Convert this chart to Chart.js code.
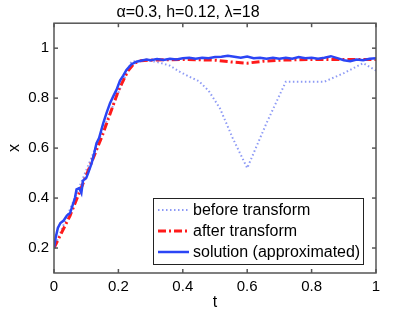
<!DOCTYPE html>
<html>
<head>
<meta charset="utf-8">
<script src="https://cdn.jsdelivr.net/npm/chart.js@4/dist/chart.umd.min.js"></script>
<style>
  html, body { margin: 0; padding: 0; background: #fff; }
</style>
</head>
<body>
<canvas id="chart" width="415" height="312"></canvas>
<script>
// data
const beforeT = [0, 0.24, 0.28, 0.32, 0.36, 0.39, 0.42, 0.45, 0.48, 0.515, 0.555, 0.60, 0.66, 0.72, 0.78, 0.84, 0.90, 0.96, 1.00];
const beforeX = [0.20, 0.946, 0.952, 0.945, 0.93, 0.906, 0.886, 0.868, 0.83, 0.76, 0.64, 0.52, 0.70, 0.866, 0.866, 0.866, 0.90, 0.94, 0.91];

const afterT = [0, 0.05, 0.10, 0.15, 0.20, 0.23, 0.25, 0.27, 0.30, 0.40, 0.50, 0.55, 0.60, 0.65, 0.70, 0.80, 0.90, 1.00];
const afterX = [0.20, 0.33, 0.49, 0.65, 0.83, 0.91, 0.94, 0.95, 0.952, 0.955, 0.952, 0.945, 0.94, 0.948, 0.952, 0.955, 0.955, 0.955];

const solT = [0, 0.005, 0.012, 0.02, 0.03, 0.04, 0.05, 0.055, 0.065, 0.07, 0.078, 0.085, 0.09, 0.10, 0.106, 0.117, 0.125, 0.132,
  0.14, 0.153, 0.163, 0.174, 0.185, 0.194, 0.205, 0.215, 0.225, 0.24, 0.256, 0.27, 0.287, 0.30, 0.32, 0.34, 0.36, 0.38, 0.40,
  0.42, 0.44, 0.46, 0.48, 0.50, 0.52, 0.54, 0.56, 0.58, 0.60, 0.62, 0.64, 0.66, 0.68, 0.70, 0.72, 0.74, 0.76, 0.78, 0.80,
  0.82, 0.84, 0.86, 0.88, 0.90, 0.92, 0.94, 0.96, 0.98, 1.00];
const solX = [0.20, 0.24, 0.28, 0.30, 0.31, 0.33, 0.34, 0.36, 0.40, 0.435, 0.44, 0.42, 0.47, 0.48, 0.50, 0.54, 0.58, 0.62,
  0.64, 0.70, 0.74, 0.78, 0.81, 0.833, 0.87, 0.89, 0.913, 0.935, 0.946, 0.95, 0.955, 0.952, 0.957, 0.953, 0.958, 0.955, 0.960,
  0.962, 0.958, 0.962, 0.960, 0.965, 0.966, 0.970, 0.966, 0.962, 0.967, 0.960, 0.962, 0.958, 0.962, 0.958, 0.962, 0.958, 0.965, 0.960, 0.962,
  0.958, 0.962, 0.968, 0.960, 0.952, 0.948, 0.955, 0.952, 0.958, 0.960];

const xTicks = [0, 0.2, 0.4, 0.6, 0.8, 1];
const xTickLabels = ["0", "0.2", "0.4", "0.6", "0.8", "1"];
const yTicks = [0.2, 0.4, 0.6, 0.8, 1];
const yTickLabels = ["0.2", "0.4", "0.6", "0.8", "1"];

const seriesNames = ["before transform", "after transform", "solution (approximated)"];

const dottedColor = "rgba(80, 100, 240, 0.65)";
const redColor = "#ff1a1a";
const blueColor = "#2b45f5";
const axisColor = "#555";

Chart.defaults.font.family = "'Liberation Sans', Arial, sans-serif";
Chart.defaults.color = "#000";

const toPoints = (ts, xs) => ts.map((t, i) => ({ x: t, y: xs[i] }));

const styles = [
  { color: dottedColor, width: 2, dash: [1.5, 2.5] },
  { color: redColor, width: 3, dash: [8, 3, 2, 3] },
  { color: blueColor, width: 2.5, dash: [] },
];

// MATLAB style box, inward ticks and legend
const boxPlugin = {
  id: "box",
  afterDraw(chart) {
    const { ctx, chartArea: a, scales } = chart;
    const line = (x1, y1, x2, y2) => {
      ctx.beginPath();
      ctx.moveTo(x1, y1);
      ctx.lineTo(x2, y2);
      ctx.stroke();
    };
    ctx.save();
    ctx.strokeStyle = axisColor;
    ctx.lineWidth = 1.5;
    ctx.strokeRect(a.left, a.top, a.right - a.left, a.bottom - a.top);
    const tl = 4;
    scales.x.ticks.forEach(t => {
      const px = scales.x.getPixelForValue(t.value);
      line(px, a.bottom, px, a.bottom - tl);
      line(px, a.top, px, a.top + tl);
    });
    scales.y.ticks.forEach(t => {
      const py = scales.y.getPixelForValue(t.value);
      line(a.left, py, a.left + tl, py);
      line(a.right, py, a.right - tl, py);
    });

    // legend
    const lx = 153, ly = 198, lw = 210, lh = 66;
    ctx.fillStyle = "#fff";
    ctx.fillRect(lx, ly, lw, lh);
    ctx.strokeStyle = "#222";
    ctx.lineWidth = 1;
    ctx.strokeRect(lx + 0.5, ly + 0.5, lw, lh);
    ctx.font = "16px 'Liberation Sans', Arial, sans-serif";
    ctx.textBaseline = "middle";
    ctx.fillStyle = "#000";
    seriesNames.forEach((name, i) => {
      const yy = 210 + i * 21;
      const s = styles[i];
      ctx.strokeStyle = s.color;
      ctx.lineWidth = s.width;
      ctx.setLineDash(s.dash);
      line(158, yy, 189, yy);
      ctx.setLineDash([]);
      ctx.fillText(name, 193, yy + 1);
    });
    ctx.restore();
  },
};

new Chart(document.getElementById("chart"), {
  type: "scatter",
  data: {
    datasets: [
      { label: seriesNames[0], data: toPoints(beforeT, beforeX), order: 3 },
      { label: seriesNames[1], data: toPoints(afterT, afterX), order: 2 },
      { label: seriesNames[2], data: toPoints(solT, solX), order: 1 },
    ].map((d, i) => ({
      ...d,
      showLine: true,
      borderColor: styles[i].color,
      borderWidth: styles[i].width,
      borderDash: styles[i].dash,
      pointRadius: 0,
      tension: 0,
      fill: false,
    })),
  },
  options: {
    responsive: false,
    animation: false,
    layout: { padding: { left: 0, right: 39, top: 0, bottom: 0 } },
    plugins: {
      legend: { display: false },
      tooltip: { enabled: false },
      title: {
        display: true,
        text: "α=0.3, h=0.12, λ=18",
        font: { size: 16, weight: "normal" },
        color: "#000",
        padding: { top: 3, bottom: 1 },
      },
    },
    scales: {
      x: {
        type: "linear",
        min: 0,
        max: 1,
        grid: { display: false, drawTicks: false },
        border: { display: false },
        afterBuildTicks: s => { s.ticks = xTicks.map(v => ({ value: v })); },
        afterFit: s => { s.height = 39; },
        ticks: {
          font: { size: 15 },
          padding: 5,
          maxRotation: 0,
          callback: (v, i) => xTickLabels[i],
        },
        title: { display: true, text: "t", font: { size: 16 }, padding: { top: 0, bottom: 0 } },
      },
      y: {
        type: "linear",
        min: 0.1,
        max: 1.1,
        grid: { display: false, drawTicks: false },
        border: { display: false },
        afterBuildTicks: s => { s.ticks = yTicks.map(v => ({ value: v })); },
        afterFit: s => { s.width = 54; },
        ticks: {
          font: { size: 15 },
          padding: 5,
          callback: (v, i) => yTickLabels[i],
        },
        title: { display: true, text: "x", font: { size: 16 }, padding: { top: 5, bottom: 0 } },
      },
    },
  },
  plugins: [boxPlugin],
});
</script>
</body>
</html>
